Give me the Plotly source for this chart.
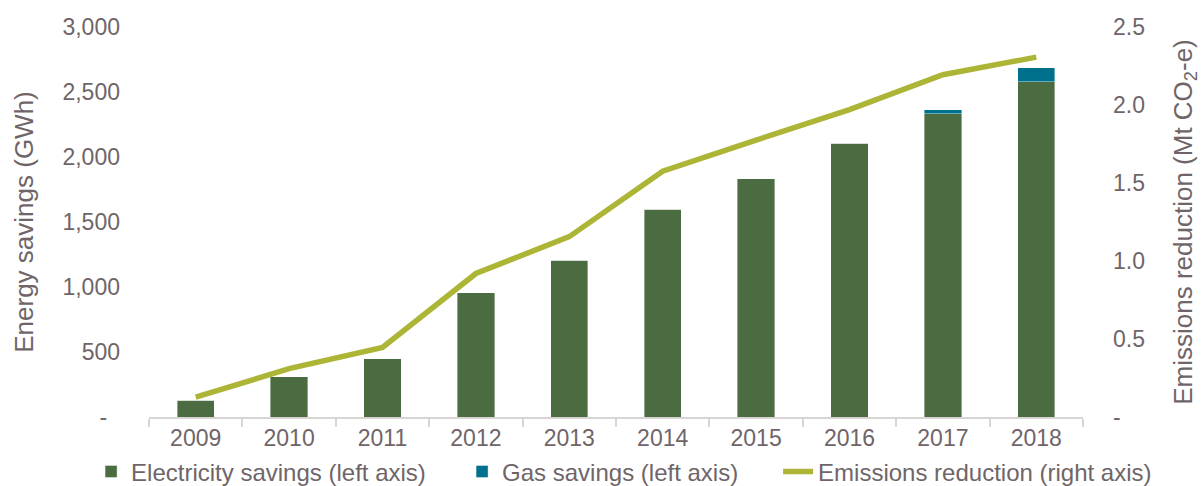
import plotly.graph_objects as go

years = ["2009", "2010", "2011", "2012", "2013", "2014", "2015", "2016", "2017", "2018"]
electricity_gwh = [127, 308, 449, 955, 1206, 1598, 1833, 2107, 2334, 2577]
gas_gwh = [0, 0, 0, 0, 0, 0, 0, 0, 28, 111]
emissions_mt = [0.127, 0.31, 0.446, 0.92, 1.156, 1.576, 1.775, 1.97, 2.194, 2.307]

left_tickvals = [0, 500, 1000, 1500, 2000, 2500, 3000]
left_ticktext = ["-\u00a0\u00a0", "500", "1,000", "1,500", "2,000", "2,500", "3,000"]
right_tickvals = [0, 0.5, 1.0, 1.5, 2.0, 2.5]
right_ticktext = ["-", "0.5", "1.0", "1.5", "2.0", "2.5"]

TEXT = "#6f6568"
FONT = "Liberation Sans, Arial, sans-serif"

fig = go.Figure()
fig.add_trace(go.Bar(x=years, y=electricity_gwh, name="Electricity savings (left axis)",
                     marker=dict(color="#4b6c41", line=dict(width=0.8, color="rgba(255,255,255,0.5)")),
                     legendwidth=326, yaxis="y"))
fig.add_trace(go.Bar(x=years, y=gas_gwh, name="Gas savings (left axis)",
                     marker=dict(color="#00718c", line=dict(width=0.8, color="rgba(255,255,255,0.5)")),
                     legendwidth=271, yaxis="y"))
fig.add_trace(go.Scatter(x=years, y=emissions_mt, name="Emissions reduction (right axis)",
                         mode="lines", line=dict(color="#adb536", width=5.5), yaxis="y2"))

fig.update_layout(
    width=1201, height=486,
    barmode="stack", bargap=0.6,
    paper_bgcolor="white", plot_bgcolor="white",
    font=dict(family=FONT, color=TEXT, size=23),
    margin=dict(l=149, r=118, t=26.5, b=68.5, autoexpand=False),
    showlegend=True,
    legend=dict(orientation="h", x=-0.062, xanchor="left",
                y=-0.083, yanchor="top",
                font=dict(size=24, color=TEXT), traceorder="normal",
                itemwidth=30, tracegroupgap=0, bgcolor="rgba(0,0,0,0)"),
    xaxis=dict(type="category", showline=True, linecolor="#d9d5d5", linewidth=1.5,
               ticks="outside", tickson="boundaries", ticklen=8, tickcolor="#d9d5d5",
               tickwidth=1.5, showgrid=False, tickfont=dict(size=23, color=TEXT)),
    yaxis=dict(range=[0, 3000], tickvals=left_tickvals, ticktext=left_ticktext,
               showgrid=False, zeroline=False, showline=False, ticks="",
               ticklabelstandoff=28, tickfont=dict(size=23, color=TEXT),
               title=dict(text="Energy savings (GWh)", font=dict(size=26, color=TEXT), standoff=21)),
    yaxis2=dict(range=[0, 2.5], tickvals=right_tickvals, ticktext=right_ticktext,
                overlaying="y", side="right", showgrid=False, zeroline=False, showline=False,
                ticks="", ticklabelstandoff=29, tickfont=dict(size=23, color=TEXT),
                title=dict(text="Emissions reduction (Mt CO<sub>2</sub>-e)",
                           font=dict(size=26, color=TEXT), standoff=33)),
)

fig.write_html("out.html")
